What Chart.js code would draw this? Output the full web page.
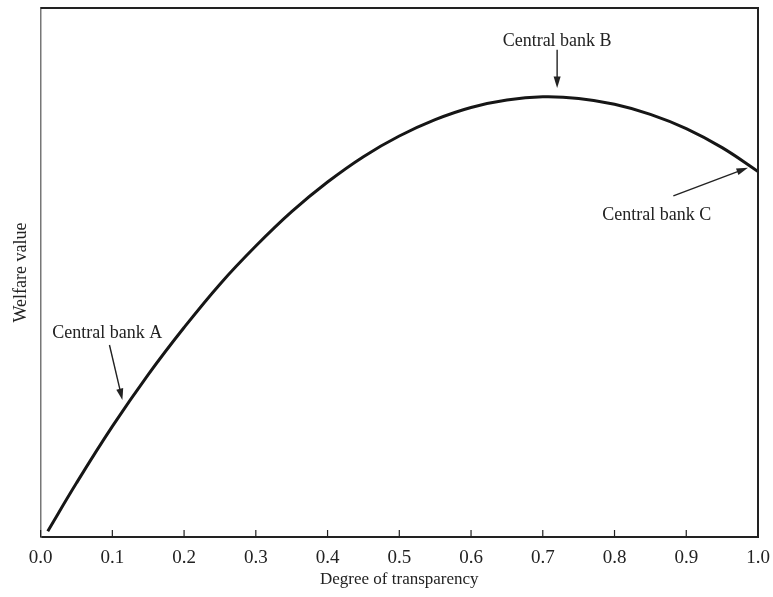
<!DOCTYPE html>
<html>
<head>
<meta charset="utf-8">
<script src="https://cdn.jsdelivr.net/npm/chart.js@4.4.1/dist/chart.umd.min.js"></script>
<style>
  html, body { margin: 0; padding: 0; background: #fff; }
  #wrap { width: 773px; height: 597px; }
</style>
</head>
<body>
<div id="wrap"><canvas id="welfareChart" width="773" height="597"></canvas></div>
<script>
// Degree of transparency (x) and welfare value (y, arbitrary units 0-100)
var transparency = [0.01, 0.05, 0.1, 0.15, 0.2, 0.25, 0.3, 0.35, 0.4, 0.45, 0.5,
                    0.55, 0.6, 0.65, 0.7, 0.75, 0.8, 0.85, 0.9, 0.95, 1.0];
var welfare = [1.1, 10.2, 20.9, 30.7, 39.6, 47.8, 55.0, 61.5, 67.1, 71.9, 75.8,
               78.9, 81.2, 82.6, 83.2, 82.9, 81.8, 79.9, 77.2, 73.6, 69.1];
var xTicks = [0.0, 0.1, 0.2, 0.3, 0.4, 0.5, 0.6, 0.7, 0.8, 0.9, 1.0];

// Annotation labels and arrows (in data coordinates)
var noteLabels = ['Central bank A', 'Central bank B', 'Central bank C'];
var notePos = [[0.093, 38.6], [0.720, 93.8], [0.859, 60.9]];
var arrowFrom = [[0.096, 36.3], [0.720, 92.1], [0.882, 64.5]];
var arrowTo = [[0.114, 25.9], [0.720, 84.9], [0.986, 69.8]];

var serif = '"Liberation Serif", "Times New Roman", serif';

// draws the frame, inward x ticks and the annotations
var decorPlugin = {
    id: 'decor',
    afterDraw: function (chart) {
        var ctx = chart.ctx;
        var xs = chart.scales.x, ys = chart.scales.y;
        var a = chart.chartArea;
        ctx.save();
        // top and right frame lines
        ctx.strokeStyle = '#222';
        ctx.lineWidth = 2;
        ctx.beginPath();
        ctx.moveTo(a.left, a.top);
        ctx.lineTo(a.right, a.top);
        ctx.lineTo(a.right, a.bottom);
        ctx.stroke();
        // inward tick marks
        ctx.lineWidth = 1.2;
        xTicks.forEach(function (t) {
            var px = xs.getPixelForValue(t);
            ctx.beginPath();
            ctx.moveTo(px, a.bottom);
            ctx.lineTo(px, a.bottom - 7);
            ctx.stroke();
        });
        // annotations
        ctx.fillStyle = '#222';
        ctx.font = '18px ' + serif;
        ctx.textAlign = 'center';
        ctx.textBaseline = 'middle';
        for (var i = 0; i < noteLabels.length; i++) {
            ctx.fillText(noteLabels[i], xs.getPixelForValue(notePos[i][0]), ys.getPixelForValue(notePos[i][1]));
            var x1 = xs.getPixelForValue(arrowFrom[i][0]), y1 = ys.getPixelForValue(arrowFrom[i][1]);
            var x2 = xs.getPixelForValue(arrowTo[i][0]), y2 = ys.getPixelForValue(arrowTo[i][1]);
            var ang = Math.atan2(y2 - y1, x2 - x1);
            var head = 12;
            ctx.lineWidth = 1.4;
            ctx.beginPath();
            ctx.moveTo(x1, y1);
            ctx.lineTo(x2 - Math.cos(ang) * head * 0.8, y2 - Math.sin(ang) * head * 0.8);
            ctx.stroke();
            ctx.beginPath();
            ctx.moveTo(x2, y2);
            ctx.lineTo(x2 - head * Math.cos(ang - 0.3), y2 - head * Math.sin(ang - 0.3));
            ctx.lineTo(x2 - head * Math.cos(ang + 0.3), y2 - head * Math.sin(ang + 0.3));
            ctx.closePath();
            ctx.fill();
        }
        ctx.restore();
    }
};

document.addEventListener('DOMContentLoaded', function () {
    var points = transparency.map(function (x, i) { return { x: x, y: welfare[i] }; });
    var ctx = document.getElementById('welfareChart').getContext('2d');
    new Chart(ctx, {
        type: 'line',
        data: {
            datasets: [{
                data: points,
                borderColor: '#161616',
                borderWidth: 3,
                pointRadius: 0,
                fill: false,
                tension: 0.4
            }]
        },
        options: {
            responsive: false,
            animation: false,
            layout: { autoPadding: false, padding: { top: 8, right: 15, left: 0, bottom: 9 } },
            plugins: { legend: { display: false }, tooltip: { enabled: false } },
            scales: {
                x: {
                    type: 'linear',
                    min: 0,
                    max: 1,
                    afterBuildTicks: function (scale) {
                        scale.ticks = xTicks.map(function (v) { return { value: v }; });
                    },
                    afterFit: function (scale) {
                        scale.paddingLeft = 0;
                        scale.paddingRight = 0;
                    },
                    grid: { display: true, drawOnChartArea: false, drawTicks: false },
                    border: { display: true, color: '#222', width: 2 },
                    ticks: {
                        color: '#222',
                        padding: 12,
                        maxRotation: 0,
                        font: { family: serif, size: 19, lineHeight: 1 },
                        callback: function (v) { return Number(v).toFixed(1); }
                    },
                    title: {
                        display: true,
                        text: 'Degree of transparency',
                        color: '#222',
                        font: { family: serif, size: 17, lineHeight: 1 },
                        padding: { top: -9, bottom: 0 }
                    }
                },
                y: {
                    min: 0,
                    max: 100,
                    grid: { display: false },
                    border: { display: true, color: '#777', width: 1.5 },
                    ticks: { display: false },
                    title: {
                        display: true,
                        text: 'Welfare value',
                        color: '#222',
                        font: { family: serif, size: 18 },
                        padding: { top: 10, bottom: 1 }
                    }
                }
            }
        },
        plugins: [decorPlugin]
    });
});
</script>
</body>
</html>
